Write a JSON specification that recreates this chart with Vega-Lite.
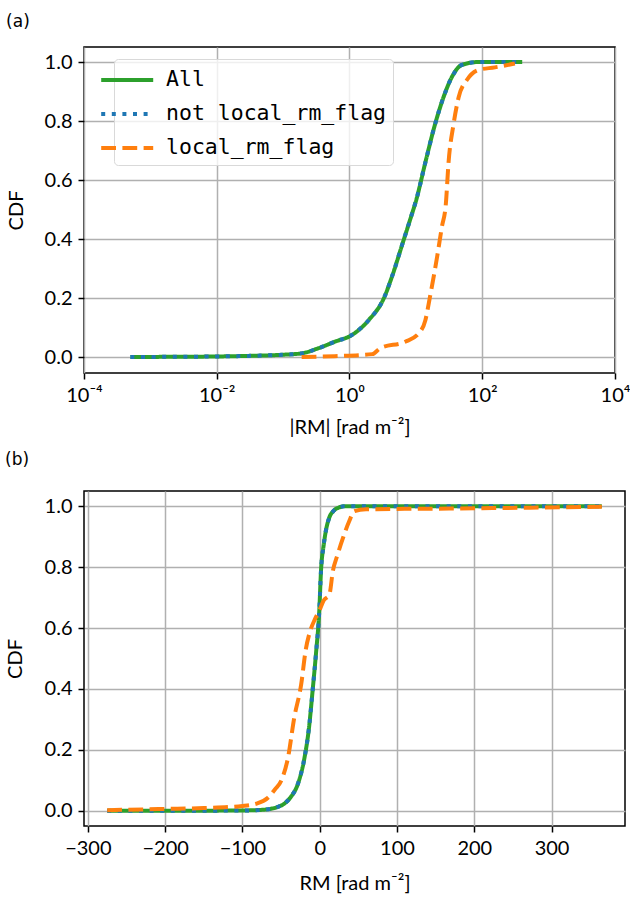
{
  "$schema": "https://vega.github.io/schema/vega-lite/v6.json",
  "padding": {"left": 4, "top": 12, "right": 0, "bottom": 0},
  "background": "white",
  "datasets": {
    "a": [
      {"series": "All", "x": 0.0005, "cdf": 0},
      {"series": "All", "x": 0.001, "cdf": 0.0005},
      {"series": "All", "x": 0.003, "cdf": 0.001},
      {"series": "All", "x": 0.01, "cdf": 0.002},
      {"series": "All", "x": 0.03, "cdf": 0.004},
      {"series": "All", "x": 0.1, "cdf": 0.008},
      {"series": "All", "x": 0.19, "cdf": 0.0125},
      {"series": "All", "x": 0.34, "cdf": 0.03},
      {"series": "All", "x": 0.6, "cdf": 0.052},
      {"series": "All", "x": 1.09, "cdf": 0.075},
      {"series": "All", "x": 1.94, "cdf": 0.125},
      {"series": "All", "x": 3.3, "cdf": 0.2},
      {"series": "All", "x": 4.4, "cdf": 0.275},
      {"series": "All", "x": 6.2, "cdf": 0.38},
      {"series": "All", "x": 8.2, "cdf": 0.466},
      {"series": "All", "x": 10.2, "cdf": 0.535},
      {"series": "All", "x": 13.8, "cdf": 0.657},
      {"series": "All", "x": 19.5, "cdf": 0.79},
      {"series": "All", "x": 26, "cdf": 0.88},
      {"series": "All", "x": 35, "cdf": 0.95},
      {"series": "All", "x": 49, "cdf": 0.99},
      {"series": "All", "x": 87, "cdf": 1.0},
      {"series": "All", "x": 400, "cdf": 1.0},
      {"series": "not local_rm_flag", "x": 0.0005, "cdf": 0},
      {"series": "not local_rm_flag", "x": 0.001, "cdf": 0.0005},
      {"series": "not local_rm_flag", "x": 0.003, "cdf": 0.001},
      {"series": "not local_rm_flag", "x": 0.01, "cdf": 0.002},
      {"series": "not local_rm_flag", "x": 0.03, "cdf": 0.004},
      {"series": "not local_rm_flag", "x": 0.1, "cdf": 0.008},
      {"series": "not local_rm_flag", "x": 0.19, "cdf": 0.0125},
      {"series": "not local_rm_flag", "x": 0.34, "cdf": 0.03},
      {"series": "not local_rm_flag", "x": 0.6, "cdf": 0.052},
      {"series": "not local_rm_flag", "x": 1.09, "cdf": 0.075},
      {"series": "not local_rm_flag", "x": 1.94, "cdf": 0.125},
      {"series": "not local_rm_flag", "x": 3.3, "cdf": 0.2},
      {"series": "not local_rm_flag", "x": 4.4, "cdf": 0.275},
      {"series": "not local_rm_flag", "x": 6.2, "cdf": 0.38},
      {"series": "not local_rm_flag", "x": 8.2, "cdf": 0.466},
      {"series": "not local_rm_flag", "x": 10.2, "cdf": 0.535},
      {"series": "not local_rm_flag", "x": 13.8, "cdf": 0.657},
      {"series": "not local_rm_flag", "x": 19.5, "cdf": 0.79},
      {"series": "not local_rm_flag", "x": 26, "cdf": 0.88},
      {"series": "not local_rm_flag", "x": 35, "cdf": 0.95},
      {"series": "not local_rm_flag", "x": 49, "cdf": 0.99},
      {"series": "not local_rm_flag", "x": 87, "cdf": 1.0},
      {"series": "not local_rm_flag", "x": 400, "cdf": 1.0},
      {"series": "local_rm_flag", "x": 0.19, "cdf": 0},
      {"series": "local_rm_flag", "x": 0.6, "cdf": 0.003},
      {"series": "local_rm_flag", "x": 2.2, "cdf": 0.01},
      {"series": "local_rm_flag", "x": 2.9, "cdf": 0.03},
      {"series": "local_rm_flag", "x": 6.9, "cdf": 0.052},
      {"series": "local_rm_flag", "x": 11, "cdf": 0.08},
      {"series": "local_rm_flag", "x": 13.9, "cdf": 0.125},
      {"series": "local_rm_flag", "x": 16.3, "cdf": 0.204},
      {"series": "local_rm_flag", "x": 20.9, "cdf": 0.34},
      {"series": "local_rm_flag", "x": 24.6, "cdf": 0.44},
      {"series": "local_rm_flag", "x": 28.3, "cdf": 0.52},
      {"series": "local_rm_flag", "x": 31, "cdf": 0.657},
      {"series": "local_rm_flag", "x": 37, "cdf": 0.79},
      {"series": "local_rm_flag", "x": 44, "cdf": 0.88},
      {"series": "local_rm_flag", "x": 59, "cdf": 0.94},
      {"series": "local_rm_flag", "x": 87, "cdf": 0.973},
      {"series": "local_rm_flag", "x": 155, "cdf": 0.982},
      {"series": "local_rm_flag", "x": 310, "cdf": 0.995}
    ],
    "b": [
      {"series": "All", "x": -275, "cdf": 0},
      {"series": "All", "x": -200, "cdf": 0},
      {"series": "All", "x": -100, "cdf": 0.001},
      {"series": "All", "x": -75, "cdf": 0.003},
      {"series": "All", "x": -55, "cdf": 0.012},
      {"series": "All", "x": -45, "cdf": 0.025},
      {"series": "All", "x": -37.5, "cdf": 0.045},
      {"series": "All", "x": -28, "cdf": 0.09},
      {"series": "All", "x": -20, "cdf": 0.17},
      {"series": "All", "x": -14, "cdf": 0.27},
      {"series": "All", "x": -9, "cdf": 0.4},
      {"series": "All", "x": -4.7, "cdf": 0.52},
      {"series": "All", "x": -0.5, "cdf": 0.66},
      {"series": "All", "x": 1.7, "cdf": 0.79},
      {"series": "All", "x": 5, "cdf": 0.87},
      {"series": "All", "x": 8, "cdf": 0.92},
      {"series": "All", "x": 12, "cdf": 0.96},
      {"series": "All", "x": 18, "cdf": 0.985},
      {"series": "All", "x": 25, "cdf": 0.996},
      {"series": "All", "x": 32, "cdf": 1.0},
      {"series": "All", "x": 365, "cdf": 1.0},
      {"series": "not local_rm_flag", "x": -275, "cdf": 0},
      {"series": "not local_rm_flag", "x": -200, "cdf": 0},
      {"series": "not local_rm_flag", "x": -100, "cdf": 0.001},
      {"series": "not local_rm_flag", "x": -75, "cdf": 0.003},
      {"series": "not local_rm_flag", "x": -55, "cdf": 0.012},
      {"series": "not local_rm_flag", "x": -45, "cdf": 0.025},
      {"series": "not local_rm_flag", "x": -37.5, "cdf": 0.045},
      {"series": "not local_rm_flag", "x": -28, "cdf": 0.09},
      {"series": "not local_rm_flag", "x": -20, "cdf": 0.17},
      {"series": "not local_rm_flag", "x": -14, "cdf": 0.27},
      {"series": "not local_rm_flag", "x": -9, "cdf": 0.4},
      {"series": "not local_rm_flag", "x": -4.7, "cdf": 0.52},
      {"series": "not local_rm_flag", "x": -0.5, "cdf": 0.66},
      {"series": "not local_rm_flag", "x": 1.7, "cdf": 0.79},
      {"series": "not local_rm_flag", "x": 5, "cdf": 0.87},
      {"series": "not local_rm_flag", "x": 8, "cdf": 0.92},
      {"series": "not local_rm_flag", "x": 12, "cdf": 0.96},
      {"series": "not local_rm_flag", "x": 18, "cdf": 0.985},
      {"series": "not local_rm_flag", "x": 25, "cdf": 0.996},
      {"series": "not local_rm_flag", "x": 32, "cdf": 1.0},
      {"series": "not local_rm_flag", "x": 365, "cdf": 1.0},
      {"series": "local_rm_flag", "x": -275, "cdf": 0.002},
      {"series": "local_rm_flag", "x": -200, "cdf": 0.006},
      {"series": "local_rm_flag", "x": -150, "cdf": 0.009},
      {"series": "local_rm_flag", "x": -100, "cdf": 0.016},
      {"series": "local_rm_flag", "x": -80, "cdf": 0.025},
      {"series": "local_rm_flag", "x": -67, "cdf": 0.043},
      {"series": "local_rm_flag", "x": -58, "cdf": 0.07},
      {"series": "local_rm_flag", "x": -50, "cdf": 0.098},
      {"series": "local_rm_flag", "x": -41, "cdf": 0.175},
      {"series": "local_rm_flag", "x": -33, "cdf": 0.305},
      {"series": "local_rm_flag", "x": -24, "cdf": 0.415},
      {"series": "local_rm_flag", "x": -18, "cdf": 0.53},
      {"series": "local_rm_flag", "x": -13, "cdf": 0.585},
      {"series": "local_rm_flag", "x": -6, "cdf": 0.63},
      {"series": "local_rm_flag", "x": 0, "cdf": 0.66},
      {"series": "local_rm_flag", "x": 5, "cdf": 0.69},
      {"series": "local_rm_flag", "x": 12.5, "cdf": 0.71},
      {"series": "local_rm_flag", "x": 17, "cdf": 0.787},
      {"series": "local_rm_flag", "x": 23, "cdf": 0.84},
      {"series": "local_rm_flag", "x": 30, "cdf": 0.895},
      {"series": "local_rm_flag", "x": 38, "cdf": 0.95},
      {"series": "local_rm_flag", "x": 45, "cdf": 0.984},
      {"series": "local_rm_flag", "x": 60, "cdf": 0.99},
      {"series": "local_rm_flag", "x": 150, "cdf": 0.992},
      {"series": "local_rm_flag", "x": 365, "cdf": 0.998}
    ]
  },
  "vconcat": [
    {
      "title": {"text": "(a)"},
      "width": 531,
      "height": 326,
      "data": {"name": "a"},
      "encoding": {
        "x": {"field": "x", "type": "quantitative",
          "scale": {"type": "log", "domain": [0.0001, 10000], "nice": false},
          "axis": {"values": [0.0001, 0.01, 1, 100, 10000],
            "labelExpr": "datum.value < 0.001 ? '10⁻⁴' : datum.value < 0.1 ? '10⁻²' : datum.value < 10 ? '10⁰' : datum.value < 1000 ? '10²' : '10⁴'",
            "title": "|RM| [rad m⁻²]"}},
        "y": {"field": "cdf", "type": "quantitative",
          "scale": {"domain": [-0.054, 1.051], "nice": false, "zero": false},
          "axis": {"values": [0, 0.2, 0.4, 0.6, 0.8, 1.0], "format": ".1f", "title": "CDF", "titlePadding": 18}},
        "color": {"field": "series", "type": "nominal",
          "scale": {"domain": ["All", "not local_rm_flag", "local_rm_flag"], "range": ["#2ca02c", "#1f77b4", "#ff7f0e"]},
          "legend": {"title": null, "orient": "none", "legendX": 30, "legendY": 12, "symbolType": "M-2.6,0H1.4", "symbolStrokeWidth": 4, "symbolSize": 676, "labelFont": "DejaVu Sans Mono", "labelFontSize": 21.5, "labelColor": "black", "labelOffset": 16, "rowPadding": 8, "padding": 6, "fillColor": "rgba(255,255,255,0.8)", "strokeColor": "#d9d9d9", "cornerRadius": 4, "labelLimit": 400}},
        "strokeDash": {"field": "series", "type": "nominal",
          "scale": {"domain": ["All", "not local_rm_flag", "local_rm_flag"], "range": [[1, 0], [4, 6.6], [14.8, 6.4]]},
          "legend": {"title": null, "orient": "none", "legendX": 30, "legendY": 12, "symbolType": "M-2.6,0H1.4", "symbolStrokeWidth": 4, "symbolSize": 676, "labelFont": "DejaVu Sans Mono", "labelFontSize": 21.5, "labelColor": "black", "labelOffset": 16, "rowPadding": 8, "padding": 6, "fillColor": "rgba(255,255,255,0.8)", "strokeColor": "#d9d9d9", "cornerRadius": 4, "labelLimit": 400}}
      },
      "layer": [
        {"transform": [{"filter": "datum.series === 'All'"}], "mark": {"type": "line", "strokeWidth": 4, "interpolate": "monotone", "strokeCap": "butt", "clip": true}},
        {"transform": [{"filter": "datum.series === 'not local_rm_flag'"}], "mark": {"type": "line", "strokeWidth": 4, "interpolate": "monotone", "strokeCap": "butt", "clip": true}},
        {"transform": [{"filter": "datum.series === 'local_rm_flag'"}], "mark": {"type": "line", "strokeWidth": 4, "interpolate": "monotone", "strokeCap": "butt", "clip": true}}
      ]
    },
    {
      "title": {"text": "(b)", "offset": 22},
      "width": 541,
      "height": 335,
      "data": {"name": "b"},
      "encoding": {
        "x": {"field": "x", "type": "quantitative",
          "scale": {"domain": [-305, 395], "nice": false, "zero": false},
          "axis": {"values": [-300, -200, -100, 0, 100, 200, 300], "format": "d", "title": "RM [rad m⁻²]", "titlePadding": 15}},
        "y": {"field": "cdf", "type": "quantitative",
          "scale": {"domain": [-0.05, 1.05], "nice": false, "zero": false},
          "axis": {"values": [0, 0.2, 0.4, 0.6, 0.8, 1.0], "format": ".1f", "title": "CDF", "titlePadding": 19}},
        "color": {"field": "series", "type": "nominal",
          "scale": {"domain": ["All", "not local_rm_flag", "local_rm_flag"], "range": ["#2ca02c", "#1f77b4", "#ff7f0e"]},
          "legend": null},
        "strokeDash": {"field": "series", "type": "nominal",
          "scale": {"domain": ["All", "not local_rm_flag", "local_rm_flag"], "range": [[1, 0], [4, 6.6], [14.8, 6.4]]},
          "legend": null}
      },
      "layer": [
        {"transform": [{"filter": "datum.series === 'All'"}], "mark": {"type": "line", "strokeWidth": 4, "interpolate": "monotone", "strokeCap": "butt", "clip": true}},
        {"transform": [{"filter": "datum.series === 'not local_rm_flag'"}], "mark": {"type": "line", "strokeWidth": 4, "interpolate": "monotone", "strokeCap": "butt", "clip": true}},
        {"transform": [{"filter": "datum.series === 'local_rm_flag'"}], "mark": {"type": "line", "strokeWidth": 4, "interpolate": "monotone", "strokeCap": "butt", "clip": true}}
      ]
    }
  ],
  "spacing": 12,
  "resolve": {"legend": {"color": "independent", "strokeDash": "independent"}, "scale": {"x": "independent", "y": "independent"}},
  "config": {
    "font": "Lato",
    "view": {"stroke": "black", "strokeWidth": 1.5},
    "axis": {"domain": false, "tickColor": "black", "tickWidth": 1.5, "tickSize": 6, "labelFontSize": 20, "titleFontSize": 20, "labelColor": "black", "titleColor": "black", "titleFontWeight": "normal", "gridColor": "#b0b0b0", "gridWidth": 1.5, "labelPadding": 6, "labelFlush": false, "labelOverlap": false, "titlePadding": 12},
    "title": {"fontSize": 17, "font": "DejaVu Sans", "fontWeight": "normal", "anchor": "start", "frame": "bounds", "offset": 16, "color": "black"}
  }
}
